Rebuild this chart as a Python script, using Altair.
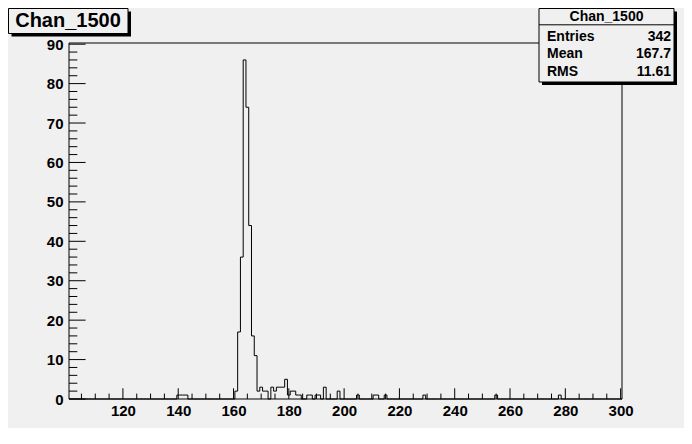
import altair as alt
import pandas as pd

# ---------------- data ----------------
# non-empty bins of histogram "Chan_1500" (bin centre -> entries), bins 1 unit wide
bin_centers = [140, 141, 142, 143,
               161, 162, 163, 164, 165, 166, 167, 168,
               169, 170, 171, 172,
               174, 175, 176, 177, 178, 179,
               180, 181, 182, 183, 184,
               187, 188, 190, 191, 193, 198,
               205, 211, 212, 215, 229, 255, 278]
bin_counts = [1, 1, 1, 1,
              2, 17, 36, 86, 74, 44, 16, 11,
              2, 3, 2, 2,
              3, 2, 3, 3, 3, 5,
              1, 2, 2, 1, 1,
              1, 1, 1, 1, 3, 2,
              1, 1, 1, 1, 1, 1, 1]

hist_title = "Chan_1500"
stat_names = ["Entries", "Mean", "RMS"]
stat_values = ["342", "167.7", "11.61"]

x_range = [100.5, 300.5]
y_range = [0, 90.3]
x_major = [120, 140, 160, 180, 200, 220, 240, 260, 280, 300]
x_minor = [v for v in range(105, 300, 5) if v not in x_major]
y_major = [0, 10, 20, 30, 40, 50, 60, 70, 80, 90]
y_minor = [v for v in range(2, 90, 2) if v not in y_major]

# ---------------- build tables ----------------
counts_map = dict(zip(bin_centers, bin_counts))
edges = [n - 0.5 for n in range(101, 301)] + [300.5]
vals = [counts_map.get(n, 0) for n in range(101, 301)] + [0]
hist_df = pd.DataFrame({"edge": edges, "count": vals})
deco = pd.DataFrame({"a": [0]})

W, H = 553, 356
BG = "#f0f0f0"
FONT = "Liberation Sans"

xscale = alt.Scale(domain=x_range, nice=False, zero=False)
yscale = alt.Scale(domain=y_range, nice=False, zero=False)

label_common = dict(title=None, ticks=False, domain=False, grid=False,
                    labelFont=FONT, labelFontSize=15, labelFontWeight="bold",
                    labelColor="black", labelFlush=False, labelOverlap=False,
                    format="d")
x_axis = alt.Axis(values=x_major, labelPadding=4, **label_common)
y_axis = alt.Axis(values=y_major, labelPadding=6, **label_common)

frame = alt.Chart(deco).mark_rect(fillOpacity=0, stroke="black", strokeWidth=1).encode(
    x=alt.value(0), x2=alt.value(W), y=alt.value(0), y2=alt.value(H))

hist = alt.Chart(hist_df).mark_line(interpolate="step-after", color="black",
                                    strokeWidth=1).encode(
    x=alt.X("edge:Q", scale=xscale, axis=x_axis),
    y=alt.Y("count:Q", scale=yscale, axis=y_axis),
)


def xticks(values, length):
    return alt.Chart(pd.DataFrame({"v": values})).mark_rule(
        color="black", strokeWidth=1).encode(
        x=alt.X("v:Q", scale=xscale, axis=x_axis),
        y=alt.value(H), y2=alt.value(H - length))


def yticks(values, length):
    return alt.Chart(pd.DataFrame({"v": values})).mark_rule(
        color="black", strokeWidth=1).encode(
        y=alt.Y("v:Q", scale=yscale, axis=y_axis),
        x=alt.value(0), x2=alt.value(length))


def box(x1, y1, x2, y2):
    shadow = alt.Chart(deco).mark_rect(color="black").encode(
        x=alt.value(x1 + 3), x2=alt.value(x2 + 3),
        y=alt.value(y1 + 3), y2=alt.value(y2 + 3))
    body = alt.Chart(deco).mark_rect(fill=BG, stroke="black", strokeWidth=1).encode(
        x=alt.value(x1), x2=alt.value(x2), y=alt.value(y1), y2=alt.value(y2))
    return [shadow, body]


def text(s, x, y, size, align="left"):
    return alt.Chart(deco).mark_text(
        font=FONT, fontSize=size, fontWeight="bold", color="black",
        align=align, baseline="middle").encode(
        x=alt.value(x), y=alt.value(y), text=alt.value(s))


layers = [frame, hist,
          xticks(x_major, 10.7), xticks(x_minor, 5.4),
          yticks(y_major, 16.6), yticks(y_minor, 8.3)]

# title box (top-left)
layers += box(-60.5, -34.5, 59, -9.5)
layers.append(text(hist_title, -1, -22, 20, "center"))

# stats box (top-right)
SX1, SX2 = 470, 605
layers += box(SX1, -34.5, SX2, 39)
layers.append(alt.Chart(deco).mark_rule(color="black", strokeWidth=1).encode(
    x=alt.value(SX1), x2=alt.value(SX2), y=alt.value(-18.2)))
layers.append(text(hist_title, (SX1 + SX2) / 2, -26.5, 14, "center"))
row_y = [-6.5, 11, 28.5]
for name, val, ry in zip(stat_names, stat_values, row_y):
    layers.append(text(name, SX1 + 8, ry, 14, "left"))
    layers.append(text(val, SX2 - 3, ry, 14, "right"))

chart = alt.layer(*layers).properties(
    width=W, height=H,
    padding={"left": 61, "top": 35, "right": 62, "bottom": 29},
    autosize=alt.AutoSizeParams(type="none"),
).configure(background=BG).configure_view(stroke=None)

chart.save("out.html", embed_options={"renderer": "svg", "actions": False})
